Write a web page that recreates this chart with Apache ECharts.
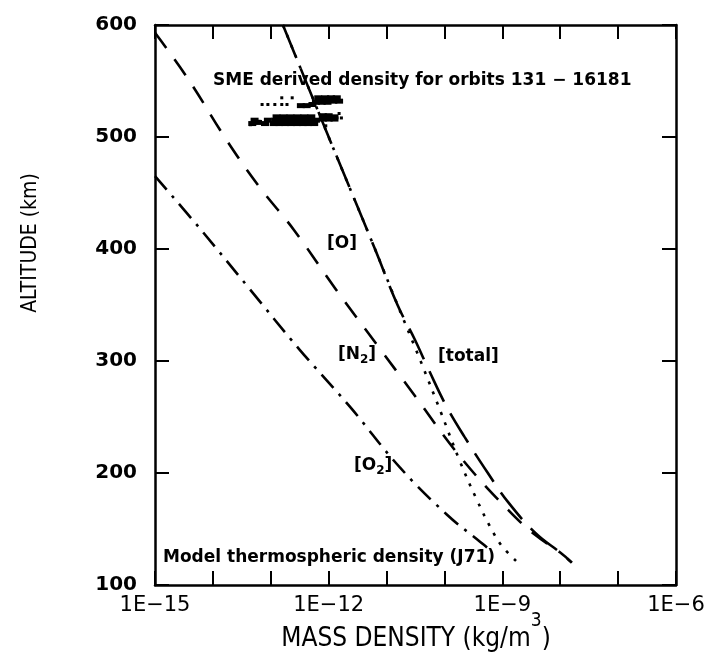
<!DOCTYPE html>
<html>
<head>
<meta charset="utf-8">
<script src="https://cdn.jsdelivr.net/npm/echarts@6/dist/echarts.min.js"></script>
<style>
  html, body { margin: 0; padding: 0; background: #fff; }
  #chart { width: 706px; height: 656px; }
</style>
</head>
<body>
<div id="chart"></div>
<script>
// values: log10 of mass density (kg/m3) and altitude (km)
var totalLog = [-12.79, -12.00, -11.20, -10.81, -10.51, -10.27, -9.96, -9.65, -9.25, -8.90, -8.42, -8.00, -7.80];
var totalAlt = [600, 500, 400, 350, 319, 292, 259, 232, 200, 174, 146, 129, 120];

var oxyLog = [-12.79, -12.00, -11.20, -10.81, -10.42, -10.06, -9.73, -9.44, -9.21, -9.01, -8.73];
var oxyAlt = [600, 500, 400, 350, 301, 254, 210, 176, 152, 135, 120];

var n2Log = [-15.00, -14.43, -13.76, -13.19, -12.60, -11.89, -11.13, -10.54, -9.72, -8.90, -8.44, -8.00, -7.80];
var n2Alt = [593, 552, 497, 455, 417, 365, 312, 271, 214, 167, 145, 129, 120];

var o2Log = [-15.00, -14.22, -13.36, -12.50, -11.63, -10.77, -9.96, -9.37, -9.18];
var o2Alt = [465, 418, 364, 310, 259, 205, 163, 138, 130];

// SME derived density for orbits 131 - 16181: dense streaks and loose dots
var smeLog = [-13.32, -13.22, -13.10, -12.95, -12.85, -12.75, -12.65, -12.55, -12.45, -12.35, -12.25,
              -13.28, -13.05, -12.92, -12.82, -12.72, -12.62, -12.52, -12.42, -12.32, -12.22,
              -12.90, -12.78, -12.66, -12.54, -12.42, -12.30,
              -12.10, -12.00, -11.90, -12.10, -12.00, -11.90,
              -12.48, -12.38, -12.28,
              -12.22, -12.12, -12.02, -11.92, -11.82, -12.18, -12.06, -11.96, -11.86];
var smeAlt = [512, 513, 512, 512, 512, 512, 512, 512, 512, 512, 512,
              515, 515, 515, 515, 515, 515, 515, 515, 515, 515,
              518, 518, 518, 518, 518, 518,
              516, 516, 516, 519, 519, 518,
              528, 528, 529,
              531, 531, 531, 532, 532, 535, 535, 535, 535];
var dotLog = [-13.15, -13.05, -12.93, -12.81, -12.72, -12.81, -12.63, -11.82, -11.78, -12.05, -13.35, -13.20];
var dotAlt = [529, 529, 529, 529, 529, 535, 535, 521, 517, 510, 511, 514];

var xTickExp = [-15, -12, -9, -6];
var yTicks = [100, 200, 300, 400, 500, 600];

function pairs(lg, alt) {
  var out = [];
  for (var i = 0; i < lg.length; i++) out.push([Math.pow(10, lg[i]), alt[i]]);
  return out;
}

var chart = echarts.init(document.getElementById('chart'));
var tickStyle = { show: true, inside: true, length: 14, lineStyle: { color: '#000', width: 2 } };
var lineAx = { show: true, lineStyle: { color: '#000', width: 2.5 } };
var labFont = '"DejaVu Sans", sans-serif';
var condFont = '"DejaVu Sans Condensed", "DejaVu Sans", sans-serif';
var annFont = 'bold 17px "DejaVu Sans", sans-serif';
var subRich = {
  b: { fontSize: 17, fontWeight: 'bold', fontFamily: labFont, lineHeight: 22, verticalAlign: 'middle', color: '#000' },
  s: { fontSize: 12, fontWeight: 'bold', fontFamily: labFont, lineHeight: 22, verticalAlign: 'bottom', color: '#000' }
};
var supRich = {
  b: { fontSize: 26, fontFamily: condFont, color: '#000', lineHeight: 40, verticalAlign: 'bottom' },
  s: { fontSize: 19, fontFamily: condFont, color: '#000', lineHeight: 40, verticalAlign: 'top' }
};

var option = {
  animation: false,
  backgroundColor: '#fff',
  grid: { left: 155, right: 30, top: 25, bottom: 71, containLabel: false, outerBoundsMode: 'none' },
  xAxis: [
    {
      type: 'log', logBase: 10, min: 1e-15, max: 1e-6, splitNumber: 9,
      position: 'bottom',
      axisLine: lineAx, axisTick: tickStyle, splitLine: { show: false },
      axisLabel: {
        color: '#000', fontSize: 21, fontFamily: labFont, margin: 10,
        formatter: function (v) {
          var e = Math.round(Math.log10(v));
          return xTickExp.indexOf(e) >= 0 ? '1E\u2212' + (-e) : '';
        }
      }
    },
    {
      type: 'log', logBase: 10, min: 1e-15, max: 1e-6, splitNumber: 9,
      position: 'top',
      axisLine: lineAx, axisTick: tickStyle, splitLine: { show: false },
      axisLabel: { show: false }
    }
  ],
  yAxis: [
    {
      type: 'value', min: 100, max: 600, interval: 100,
      axisLine: lineAx, axisTick: tickStyle, splitLine: { show: false },
      axisLabel: {
        color: '#000', fontSize: 20, fontWeight: 'bold', fontFamily: labFont, margin: 18,
        formatter: function (v) { return yTicks.indexOf(v) >= 0 ? String(v) : ''; }
      }
    },
    {
      type: 'value', min: 100, max: 600, interval: 100, position: 'right',
      axisLine: lineAx, axisTick: tickStyle, splitLine: { show: false },
      axisLabel: { show: false }
    }
  ],
  series: [
    {
      name: 'total', type: 'line', data: pairs(totalLog, totalAlt),
      symbol: 'none', smooth: 0.4, lineStyle: { color: '#000', width: 2.6, type: [34, 13] }
    },
    {
      name: 'O', type: 'line', data: pairs(oxyLog, oxyAlt),
      symbol: 'none', smooth: 0.4, lineStyle: { color: '#000', width: 2.6, type: [3, 8] }
    },
    {
      name: 'N2', type: 'line', data: pairs(n2Log, n2Alt),
      symbol: 'none', smooth: 0.4, lineStyle: { color: '#000', width: 2.6, type: [19, 14] }
    },
    {
      name: 'O2', type: 'line', data: pairs(o2Log, o2Alt),
      symbol: 'none', smooth: 0.4, lineStyle: { color: '#000', width: 2.6, type: [18, 8, 3, 8] }
    },
    {
      name: 'SME', type: 'scatter', data: pairs(smeLog, smeAlt),
      symbol: 'rect', symbolSize: [8, 5], itemStyle: { color: '#000', opacity: 1 }
    },
    {
      name: 'SME dots', type: 'scatter', data: pairs(dotLog, dotAlt),
      symbol: 'rect', symbolSize: [3, 3], itemStyle: { color: '#000', opacity: 1 }
    }
  ],
  graphic: [
    { type: 'text', x: 31, y: 243, rotation: Math.PI / 2,
      style: { text: 'ALTITUDE (km)', fill: '#000', font: '21px ' + condFont, align: 'center', verticalAlign: 'middle' } },
    { type: 'text', x: 416, y: 632,
      style: { text: '{b|MASS DENSITY (kg/m}{s|3}{b|)}', rich: supRich, align: 'center', verticalAlign: 'middle' } },
    { type: 'text', x: 213, y: 81, style: { text: 'SME derived density for orbits 131 \u2212 16181', fill: '#000', font: annFont, verticalAlign: 'middle' } },
    { type: 'text', x: 163, y: 558, style: { text: 'Model thermospheric density (J71)', fill: '#000', font: annFont, verticalAlign: 'middle' } },
    { type: 'text', x: 327, y: 244, style: { text: '[O]', fill: '#000', font: annFont, verticalAlign: 'middle' } },
    { type: 'text', x: 338, y: 355, style: { text: '{b|[N}{s|2}{b|]}', rich: subRich, verticalAlign: 'middle' } },
    { type: 'text', x: 438, y: 357, style: { text: '[total]', fill: '#000', font: annFont, verticalAlign: 'middle' } },
    { type: 'text', x: 354, y: 466, style: { text: '{b|[O}{s|2}{b|]}', rich: subRich, verticalAlign: 'middle' } }
  ]
};
chart.setOption(option);
</script>
</body>
</html>
